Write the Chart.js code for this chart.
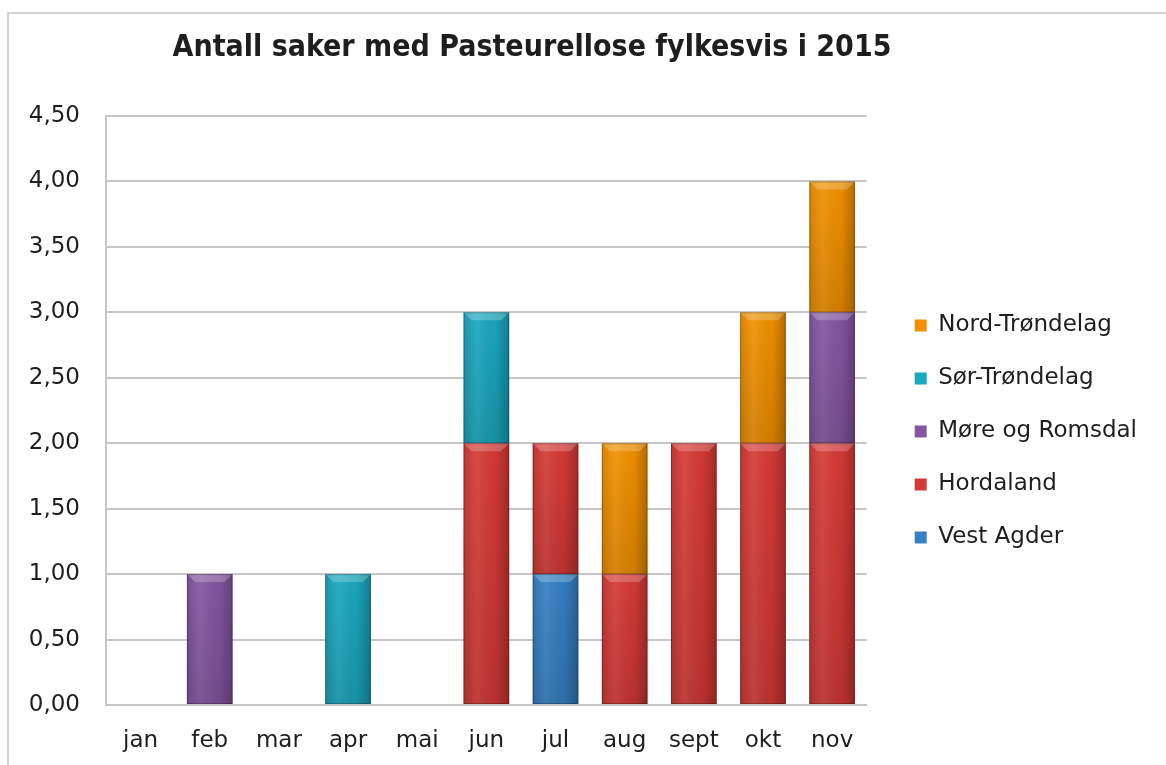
<!DOCTYPE html>
<html>
<head>
<meta charset="utf-8">
<script src="https://cdn.jsdelivr.net/npm/chart.js@4/dist/chart.umd.min.js"></script>
<style>
    body { margin: 0; background: #fff; overflow: hidden; }
    #frame { position: absolute; left: 7px; top: 12px; width: 2000px; height: 2000px;
             border-left: 2px solid #d2d2d2; border-top: 2px solid #d2d2d2; }
    #wrap { position: absolute; left: -102px; top: 0; width: 1268px; height: 765px; }
</style>
</head>
<body>
<div id="frame"></div>
<div id="wrap"><canvas id="chart"></canvas></div>
<script>
const months = ['jan', 'feb', 'mar', 'apr', 'mai', 'jun', 'jul', 'aug', 'sept', 'okt', 'nov'];

// antall saker per fylke, per måned
const vestAgder     = [0, 0, 0, 0, 0, 0, 1, 0, 0, 0, 0];
const hordaland     = [0, 0, 0, 0, 0, 2, 1, 1, 2, 2, 2];
const moreRomsdal   = [0, 1, 0, 0, 0, 0, 0, 0, 0, 0, 1];
const sorTrondelag  = [0, 0, 0, 1, 0, 1, 0, 0, 0, 0, 0];
const nordTrondelag = [0, 0, 0, 0, 0, 0, 0, 1, 0, 1, 1];

const yMax = 4.5;
const yStep = 0.5;

const textColor = '#1e1e1e';
const gridColor = '#c6c6c6';
Chart.defaults.font.family = '"DejaVu Sans", sans-serif';
Chart.defaults.color = textColor;

// gives the flat Excel bars a bit of a bevel look
const bevel = {
    id: 'bevel',
    afterDatasetsDraw(chart) {
        const ctx = chart.ctx;
        chart.data.datasets.forEach((ds, i) => {
            chart.getDatasetMeta(i).data.forEach(bar => {
                const p = bar.getProps(['x', 'y', 'base', 'width'], true);
                const left = p.x - p.width / 2;
                const top = Math.min(p.y, p.base);
                const h = Math.abs(p.base - p.y);
                if (h < 1) return;
                ctx.save();
                const g = ctx.createLinearGradient(left, 0, left + p.width, 0);
                g.addColorStop(0, 'rgba(0,0,0,0.10)');
                g.addColorStop(0.3, 'rgba(255,255,255,0.08)');
                g.addColorStop(0.7, 'rgba(0,0,0,0.03)');
                g.addColorStop(1, 'rgba(0,0,0,0.25)');
                ctx.fillStyle = g;
                ctx.fillRect(left, top, p.width, h);
                const v = ctx.createLinearGradient(0, top, 0, top + h);
                v.addColorStop(0, 'rgba(0,0,0,0)');
                v.addColorStop(1, 'rgba(0,0,0,0.12)');
                ctx.fillStyle = v;
                ctx.fillRect(left, top, p.width, h);
                // top bevel
                const b = Math.min(8, h / 2);
                ctx.beginPath();
                ctx.moveTo(left, top);
                ctx.lineTo(left + p.width, top);
                ctx.lineTo(left + p.width - b, top + b);
                ctx.lineTo(left + b, top + b);
                ctx.closePath();
                ctx.fillStyle = 'rgba(255,255,255,0.22)';
                ctx.fill();
                ctx.strokeStyle = 'rgba(0,0,0,0.25)';
                ctx.lineWidth = 1;
                ctx.strokeRect(left + 0.5, top + 0.5, p.width - 1, h - 1);
                ctx.restore();
            });
        });
    }
};

const ctx = document.getElementById('chart');

new Chart(ctx, {
    type: 'bar',
    data: {
        labels: months,
        datasets: [
            { label: 'Vest Agder', data: vestAgder, backgroundColor: '#3680c4' },
            { label: 'Hordaland', data: hordaland, backgroundColor: '#d63a36' },
            { label: 'Møre og Romsdal', data: moreRomsdal, backgroundColor: '#8557a3' },
            { label: 'Sør-Trøndelag', data: sorTrondelag, backgroundColor: '#1aa8c0' },
            { label: 'Nord-Trøndelag', data: nordTrondelag, backgroundColor: '#f29100' }
        ]
    },
    options: {
        responsive: true,
        maintainAspectRatio: false,
        animation: false,
        layout: { padding: { left: 19, right: 19, top: 20, bottom: 0 } },
        datasets: {
            bar: { barPercentage: 0.66, categoryPercentage: 1, borderWidth: 0 }
        },
        scales: {
            x: {
                stacked: true,
                grid: { display: false, drawTicks: false },
                border: { display: true, color: gridColor, width: 2 },
                ticks: { font: { size: 23 }, padding: 22, color: textColor },
                afterFit: s => { s.height = 60; }
            },
            y: {
                stacked: true,
                min: 0,
                max: yMax,
                ticks: {
                    stepSize: yStep,
                    font: { size: 23 },
                    padding: 26,
                    color: textColor,
                    callback: v => v.toFixed(2).replace('.', ',')
                },
                grid: { color: gridColor, lineWidth: 2, drawTicks: false },
                border: { display: true, color: gridColor, width: 2 },
                afterFit: s => { s.width = 189; }
            },
            gap: {
                position: 'right',
                display: true,
                grid: { display: false },
                border: { display: false },
                ticks: { display: false },
                afterFit: s => { s.width = 18; }
            }
        },
        plugins: {
            title: {
                display: true,
                text: 'Antall saker med Pasteurellose fylkesvis i 2015',
                color: textColor,
                font: { size: 30, weight: 'bold', family: '"DejaVu Sans Condensed", "Liberation Sans Narrow", "DejaVu Sans", sans-serif' },
                padding: { top: 10, bottom: 50 }
            },
            legend: {
                position: 'right',
                reverse: true,
                maxWidth: 320,
                title: { display: true, text: ' ', font: { size: 10, lineHeight: 1 }, padding: { top: 68, bottom: 0 } },
                labels: {
                    boxWidth: 12,
                    boxHeight: 12,
                    padding: 30,
                    color: textColor,
                    font: { size: 23 }
                }
            },
            tooltip: { enabled: false }
        }
    },
    plugins: [bevel]
});
</script>
</body>
</html>
